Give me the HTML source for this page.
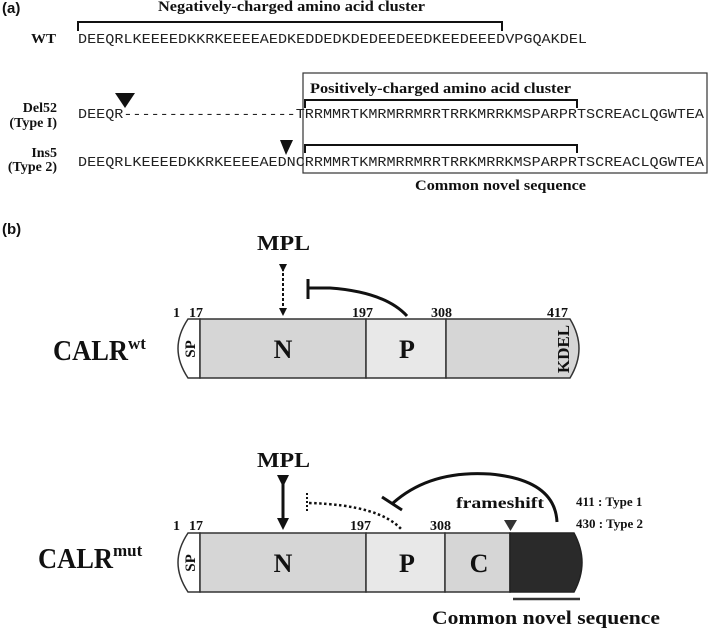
<!DOCTYPE html>
<html><head><meta charset="utf-8"><style>
html,body{margin:0;padding:0;background:#fff;}
svg{display:block}
.m{font-family:"Liberation Mono",monospace;font-size:14px;fill:#222}
.s{font-family:"Liberation Serif",serif;font-weight:bold;fill:#111}
.a{font-family:"Liberation Sans",sans-serif;font-weight:bold;fill:#111}
</style></head><body>
<svg width="709" height="628" viewBox="0 0 709 628" xmlns="http://www.w3.org/2000/svg">
<defs>
<marker id="ah" markerWidth="8" markerHeight="8" refX="4" refY="4" orient="auto" markerUnits="userSpaceOnUse"><path d="M0,0 L8,4 L0,8 z" fill="#111"/></marker>
<marker id="ah2" markerWidth="12" markerHeight="12" refX="6" refY="6" orient="auto" markerUnits="userSpaceOnUse"><path d="M0,0 L12,6 L0,12 z" fill="#111"/></marker>
</defs>
<!-- (a) -->
<text class="a" x="2" y="13" font-size="15">(a)</text>
<text class="s" x="158" y="11" font-size="15" textLength="267" lengthAdjust="spacingAndGlyphs">Negatively-charged amino acid cluster</text>
<polyline points="78,31 78,22 502,22 502,31" fill="none" stroke="#111" stroke-width="2"/>
<text class="s" x="31" y="43" font-size="14" textLength="25" lengthAdjust="spacingAndGlyphs">WT</text>
<text class="m" x="78" y="43" textLength="509" lengthAdjust="spacingAndGlyphs">DEEQRLKEEEEDKKRKEEEEAEDKEDDEDKDEDEEDEEDKEEDEEEDVPGQAKDEL</text>

<rect x="303" y="73" width="404" height="100" fill="none" stroke="#333" stroke-width="1.2"/>
<text class="s" x="310" y="93" font-size="15" textLength="261" lengthAdjust="spacingAndGlyphs">Positively-charged amino acid cluster</text>
<polyline points="305,108 305,100 577,100 577,108" fill="none" stroke="#111" stroke-width="2"/>
<polyline points="305,153 305,145 577,145 577,153" fill="none" stroke="#111" stroke-width="2"/>
<path d="M115,93 L135,93 L125,108 z" fill="#111"/>
<path d="M280,140 L293,140 L286,155 z" fill="#111"/>
<text class="s" x="57" y="112" font-size="14" text-anchor="end">Del52</text>
<text class="s" x="57" y="127" font-size="14" text-anchor="end">(Type I)</text>
<text class="s" x="57" y="157" font-size="14" text-anchor="end">Ins5</text>
<text class="s" x="57" y="171" font-size="14" text-anchor="end">(Type 2)</text>
<text class="m" x="78" y="118" textLength="626" lengthAdjust="spacingAndGlyphs">DEEQR-------------------TRRMMRTKMRMRRMRRTRRKMRRKMSPARPRTSCREACLQGWTEA</text>
<text class="m" x="78" y="166" textLength="626" lengthAdjust="spacingAndGlyphs">DEEQRLKEEEEDKKRKEEEEAEDNCRRMMRTKMRMRRMRRTRRKMRRKMSPARPRTSCREACLQGWTEA</text>
<text class="s" x="415" y="190" font-size="15" textLength="171" lengthAdjust="spacingAndGlyphs">Common novel sequence</text>

<!-- (b) -->
<text class="a" x="2" y="234" font-size="15">(b)</text>
<text class="s" x="257" y="250" font-size="21" textLength="53" lengthAdjust="spacingAndGlyphs">MPL</text>
<line x1="283" y1="268" x2="283" y2="312" stroke="#111" stroke-width="2" stroke-dasharray="3,2" marker-start="url(#ah)" marker-end="url(#ah)"/>
<line x1="308" y1="279" x2="308" y2="299" stroke="#111" stroke-width="3"/>
<path d="M308,288 L330,288 Q385,292 407,316" fill="none" stroke="#111" stroke-width="3"/>

<text class="s" font-size="14" x="173" y="317">1</text>
<text class="s" font-size="14" x="189" y="317">17</text>
<text class="s" font-size="14" x="352" y="317">197</text>
<text class="s" font-size="14" x="431" y="317">308</text>
<text class="s" font-size="14" x="547" y="317">417</text>
<!-- wt bar -->
<path d="M200,319 L188,319 Q178,334 178,348.5 Q178,363 188,378 L200,378 z" fill="#fff" stroke="#333" stroke-width="1.5"/>
<rect x="200" y="319" width="166" height="59" fill="#d6d6d6" stroke="#333" stroke-width="1.5"/>
<rect x="366" y="319" width="80" height="59" fill="#e8e8e8" stroke="#333" stroke-width="1.5"/>
<path d="M446,319 L570,319 Q579,334 579,348.5 Q579,363 570,378 L446,378 z" fill="#d6d6d6" stroke="#333" stroke-width="1.5"/>
<text class="s" font-size="15" transform="translate(195,349) rotate(-90)" text-anchor="middle">SP</text>
<text class="s" font-size="17" transform="translate(569,349) rotate(-90)" text-anchor="middle">KDEL</text>
<text class="s" font-size="26" x="283" y="358" text-anchor="middle">N</text>
<text class="s" font-size="26" x="407" y="358" text-anchor="middle">P</text>
<text class="s" font-size="29" x="53" y="360" textLength="75" lengthAdjust="spacingAndGlyphs">CALR</text>
<text class="s" font-size="17" x="128" y="349">wt</text>

<!-- mut -->
<text class="s" x="257" y="467" font-size="21" textLength="53" lengthAdjust="spacingAndGlyphs">MPL</text>
<line x1="283" y1="481" x2="283" y2="524" stroke="#111" stroke-width="3" marker-start="url(#ah2)" marker-end="url(#ah2)"/>
<line x1="307" y1="493" x2="307" y2="513" stroke="#111" stroke-width="2" stroke-dasharray="2,2"/>
<path d="M309,503 Q380,505 402,530" fill="none" stroke="#111" stroke-width="2.5" stroke-dasharray="2.5,2.5"/>
<path d="M557,522 Q555,480 490,474 Q430,470 393,503" fill="none" stroke="#111" stroke-width="3"/>
<line x1="382" y1="497" x2="402" y2="510" stroke="#111" stroke-width="3"/>
<text class="s" font-size="16" x="456" y="508" textLength="88" lengthAdjust="spacingAndGlyphs">frameshift</text>
<text class="s" font-size="13" x="576" y="506">411 : Type 1</text>
<text class="s" font-size="13" x="576" y="528">430 : Type 2</text>
<path d="M504,520 L517,520 L510.5,531 z" fill="#333"/>

<text class="s" font-size="14" x="173" y="530">1</text>
<text class="s" font-size="14" x="189" y="530">17</text>
<text class="s" font-size="14" x="350" y="530">197</text>
<text class="s" font-size="14" x="430" y="530">308</text>
<path d="M200,533 L188,533 Q178,548 178,562.5 Q178,577 188,592 L200,592 z" fill="#fff" stroke="#333" stroke-width="1.5"/>
<rect x="200" y="533" width="166" height="59" fill="#d6d6d6" stroke="#333" stroke-width="1.5"/>
<rect x="366" y="533" width="79" height="59" fill="#e8e8e8" stroke="#333" stroke-width="1.5"/>
<rect x="445" y="533" width="65" height="59" fill="#d6d6d6" stroke="#333" stroke-width="1.5"/>
<path d="M510,533 L574,533 Q582,548 582,562.5 Q582,577 574,592 L510,592 z" fill="#2a2a2a" stroke="#222" stroke-width="1.5"/>
<text class="s" font-size="15" transform="translate(195,563) rotate(-90)" text-anchor="middle">SP</text>
<text class="s" font-size="26" x="283" y="572" text-anchor="middle">N</text>
<text class="s" font-size="26" x="407" y="572" text-anchor="middle">P</text>
<text class="s" font-size="26" x="479" y="572" text-anchor="middle">C</text>
<text class="s" font-size="29" x="38" y="568" textLength="75" lengthAdjust="spacingAndGlyphs">CALR</text>
<text class="s" font-size="17" x="113" y="556">mut</text>
<line x1="513" y1="599" x2="580" y2="599" stroke="#333" stroke-width="2.5"/>
<text class="s" font-size="19" x="432" y="624" textLength="228" lengthAdjust="spacingAndGlyphs">Common novel sequence</text>
</svg>
</body></html>
